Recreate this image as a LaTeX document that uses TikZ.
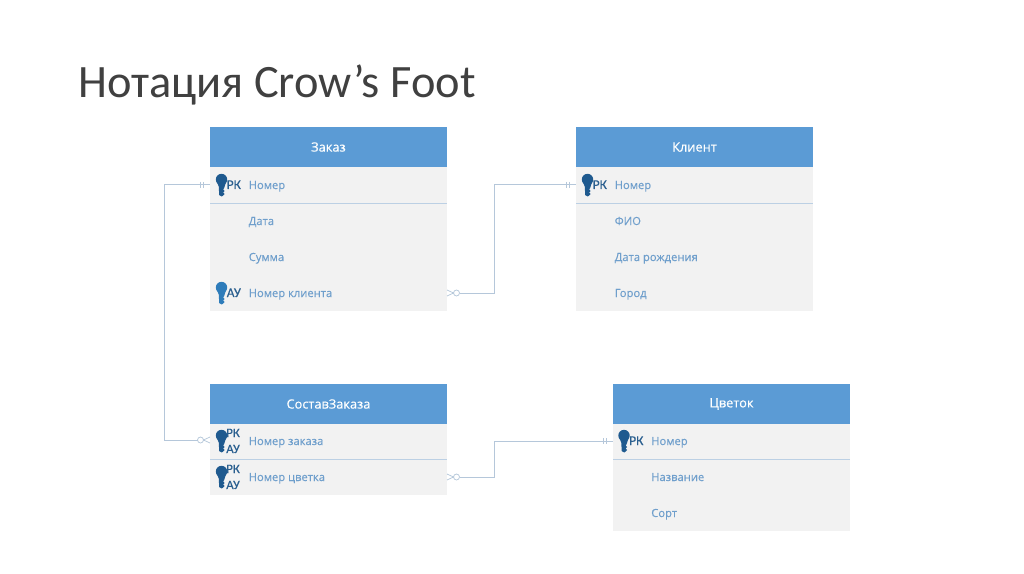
\documentclass[tikz,border=0pt]{standalone}
\usepackage{fontspec}
\setmainfont{Carlito}
\newfontfamily\fieldfont[FakeBold=0.25]{Open Sans}
\newfontfamily\tagfont[FakeBold=0.3]{Carlito}
\definecolor{headblue}{HTML}{5B9BD5}
\definecolor{bodygrey}{HTML}{F2F2F2}
\definecolor{fieldblue}{HTML}{6F9FCC}
\definecolor{conn}{HTML}{B5C7DA}
\definecolor{divline}{HTML}{BCD0E4}
\definecolor{keydark}{HTML}{1F5A8F}
\definecolor{keymid}{HTML}{2E7CBA}
\definecolor{tagdark}{HTML}{2A5F8F}
\definecolor{titlecol}{HTML}{404040}
\tikzset{
  x=0.75pt,y=-0.75pt,
  tablehead/.style={fill=headblue,draw=none,inner sep=0pt,minimum width=177.75pt,anchor=north west},
  headtext/.style={text=white,inner sep=0pt,font=\fontsize{9.6}{11}\selectfont\fieldfont},
  tablebody/.style={fill=bodygrey,draw=none,inner sep=0pt,minimum width=177.75pt,anchor=north west},
  fieldtext/.style={anchor=base west,inner sep=0pt,text=fieldblue,font=\fontsize{8.4}{10}\selectfont\fieldfont},
  tagtext/.style={anchor=base west,inner sep=0pt,text=tagdark,font=\fontsize{10}{10}\selectfont\tagfont},
  tagsmall/.style={tagtext,font=\fontsize{9.6}{10}\selectfont\tagfont},
  divider/.style={draw=divline,line width=0.6pt},
  link/.style={draw=conn,line width=0.75pt},
  endmark/.style={draw=conn,line width=0.55pt},
  keyicon/.pic={
    \fill[pic actions] (0,-5.5) circle[radius=5.7];
    \fill[pic actions] (-4.6,-3) -- (4.6,-3) -- (3,2) -- (2.4,3.5) -- (1.6,4.5) -- (3.2,6) -- (1.6,7.5) -- (3.2,9) -- (1.6,10.5) -- (0.2,11.5) -- (-2.4,10) -- (-2.6,2) -- cycle;
  }
}
\begin{document}
\begin{tikzpicture}
\useasboundingbox (0,0) rectangle (1024,574);
\fill[white] (0,0) rectangle (1024,574);
\node[anchor=west,inner sep=0pt,text=titlecol,font=\fontsize{34.8}{38}\selectfont] (title) at (78,85) {Нотация Crow’s Foot};

% table Заказ
\node[tablebody,minimum height=108pt] (zbody) at (210,167) {};
\node[tablehead,minimum height=30pt] (zhead) at (210,127) {};
\node[headtext] (ztitle) at (328.5,147) {Заказ};
\draw[divider] (210,203.5) -- (447,203.5);
\node[fieldtext] (z1) at (248.5,189) {Номер};
\node[fieldtext] (z2) at (248.5,225) {Дата};
\node[fieldtext] (z3) at (248.5,261) {Сумма};
\node[fieldtext] (z4) at (248.5,297) {Номер клиента};
\pic[fill=keydark] at (221.5,185) {keyicon};
\node[tagtext] (zt1) at (226.5,189) {РК};
\pic[fill=keymid] at (221.5,293) {keyicon};
\node[tagtext] (zt2) at (226.5,297) {АУ};

% table Клиент
\node[tablebody,minimum height=108pt] (kbody) at (576,167) {};
\node[tablehead,minimum height=30pt] (khead) at (576,127) {};
\node[headtext] (ktitle) at (694.5,147) {Клиент};
\draw[divider] (576,203.5) -- (813,203.5);
\node[fieldtext] (k1) at (614.5,189) {Номер};
\node[fieldtext] (k2) at (614.5,225) {ФИО};
\node[fieldtext] (k3) at (614.5,261) {Дата рождения};
\node[fieldtext] (k4) at (614.5,297) {Город};
\pic[fill=keydark] at (587.5,185) {keyicon};
\node[tagtext] (kt1) at (592.5,189) {РК};

% table СоставЗаказа
\node[tablebody,minimum height=54pt] (sbody) at (210,423) {};
\node[tablehead,minimum height=29.5pt] (shead) at (210,384) {};
\node[headtext] (stitle) at (328.5,404) {СоставЗаказа};
\draw[divider] (210,459.5) -- (447,459.5);
\node[fieldtext] (s1) at (248.5,445) {Номер заказа};
\node[fieldtext] (s2) at (248.5,481) {Номер цветка};
\pic[fill=keydark] at (221.5,441) {keyicon};
\node[tagsmall] (st1) at (226,437) {РК};
\node[tagsmall] (st2) at (226,453) {АУ};
\pic[fill=keydark] at (221.5,477) {keyicon};
\node[tagsmall] (st3) at (226,473) {РК};
\node[tagsmall] (st4) at (226,489) {АУ};

% table Цветок
\node[tablebody,minimum height=81pt] (cbody) at (613,423) {};
\node[tablehead,minimum height=29.5pt] (chead) at (613,384) {};
\node[headtext] (ctitle) at (731.5,404) {Цветок};
\draw[divider] (613,459.5) -- (850,459.5);
\node[fieldtext] (c1) at (651,445) {Номер};
\node[fieldtext] (c2) at (651,481) {Название};
\node[fieldtext] (c3) at (651,517) {Сорт};
\pic[fill=keydark] at (624,441) {keyicon};
\node[tagtext] (ct1) at (629,445) {РК};

% connector anchors
\coordinate (a1) at (210,185);
\coordinate (a1c) at (164,185);
\coordinate (a2) at (197.5,440);
\coordinate (a2c) at (164,440);
\coordinate (b1) at (460,293);
\coordinate (b1c) at (494,293);
\coordinate (b2) at (576,185);
\coordinate (b2c) at (494,185);
\coordinate (d1) at (460,477);
\coordinate (d1c) at (494,477);
\coordinate (d2) at (613,441);
\coordinate (d2c) at (494,441);

\draw[link] (a1) -- (a1c) -- (a2c) -- (a2);
\draw[link] (b1) -- (b1c) -- (b2c) -- (b2);
\draw[link] (d1) -- (d1c) -- (d2c) -- (d2);

% one-and-only-one ends
\draw[endmark] (200,182) -- (200,188) (203,182) -- (203,188);
\draw[endmark] (566,182) -- (566,188) (569,182) -- (569,188);
\draw[endmark] (603,438) -- (603,444) (606,438) -- (606,444);

% zero-or-many ends
\draw[endmark] (200.5,440) circle[radius=3];
\draw[endmark] (210,437) -- (203.5,440) -- (210,443);
\draw[endmark] (456.5,293) circle[radius=3];
\draw[endmark] (447,290) -- (453.5,293) -- (447,296);
\draw[endmark] (456.5,477) circle[radius=3];
\draw[endmark] (447,474) -- (453.5,477) -- (447,480);
\end{tikzpicture}
\end{document}
